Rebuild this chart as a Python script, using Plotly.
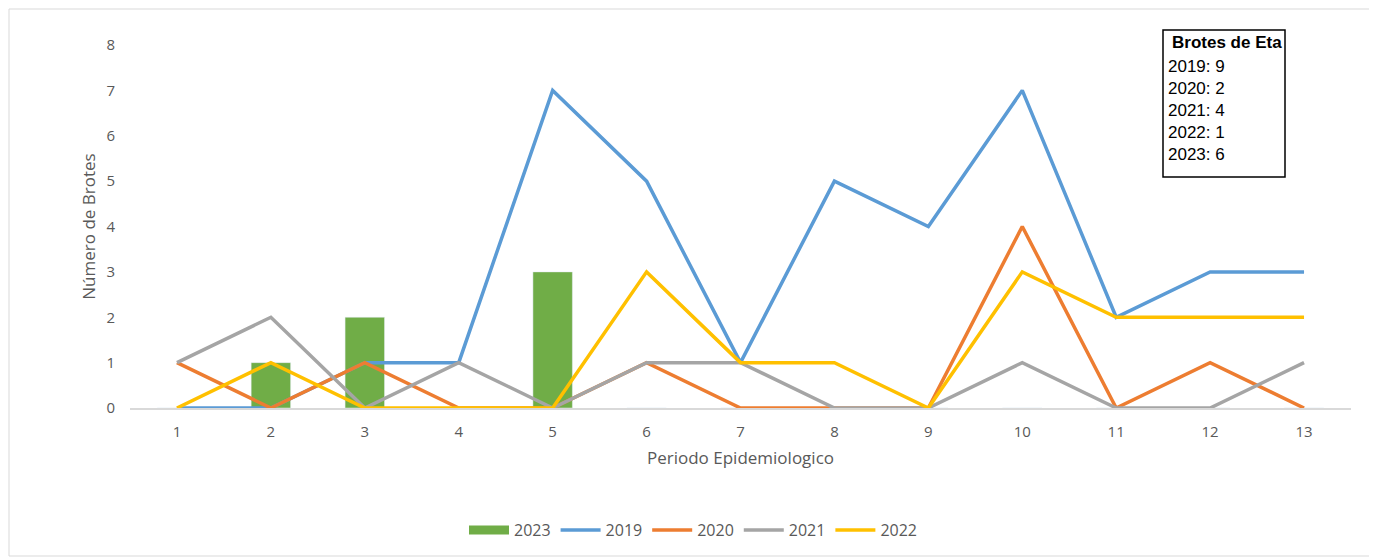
import plotly.graph_objects as go

periods = [str(i) for i in range(1, 14)]
v2023 = [0, 1, 2, 0, 3, 0, 0, 0, 0, 0, 0, 0, 0]
v2019 = [0, 0, 1, 1, 7, 5, 1, 5, 4, 7, 2, 3, 3]
v2020 = [1, 0, 1, 0, 0, 1, 0, 0, 0, 4, 0, 1, 0]
v2021 = [1, 2, 0, 1, 0, 1, 1, 0, 0, 1, 0, 0, 1]
v2022 = [0, 1, 0, 0, 0, 3, 1, 1, 0, 3, 2, 2, 2]
box_title = "Brotes de Eta"
box_lines = ["2019: 9", "2020: 2", "2021: 4", "2022: 1", "2023: 6"]

W, H = 1377, 559
OFF = 8  # page body margin
PL, PT, PR, PB = 130, 45, 1351, 408  # plot area in page pixels
L, T = PL - OFF, PT - OFF
pw, ph = PR - PL, PB - PT
R, B = W - L - pw, H - T - ph

def px(x):
    return (x - PL) / pw

def py(y):
    return (PB - y) / ph

grey = "#595959"
font_main = "Open Sans, Noto Sans, sans-serif"

fig = go.Figure()
fig.add_trace(go.Bar(x=periods, y=v2023, name="2023", marker_color="#70AD47", width=0.42,
                     showlegend=False, legendgroup="2023"))
fig.add_trace(go.Scatter(x=[None], y=[None], name="2023", mode="lines", legendgroup="2023",
                         line=dict(color="#70AD47", width=9)))
for name, vals, col in [("2019", v2019, "#5B9BD5"), ("2020", v2020, "#ED7D31"),
                        ("2021", v2021, "#A5A5A5"), ("2022", v2022, "#FFC000")]:
    fig.add_trace(go.Scatter(x=periods, y=vals, name=name, mode="lines",
                             line=dict(color=col, width=3.5)))

fig.update_layout(
    width=W, height=H,
    margin=dict(l=L, r=R, t=T, b=B),
    paper_bgcolor="white", plot_bgcolor="white",
    font=dict(family=font_main, color=grey, size=15),
    showlegend=True,
    legend=dict(orientation="h", x=px(693), xanchor="center", y=py(530), yanchor="middle",
                font=dict(size=16, color=grey), traceorder="normal", itemwidth=40,
                tracegroupgap=0),
    xaxis=dict(type="category", range=[-0.5, 12.5], showgrid=False, showline=True,
               linecolor="#D9D9D9", linewidth=1.5, ticks="", zeroline=False,
               tickfont=dict(size=15, color=grey), ticklabelstandoff=9,
               title=dict(text="Periodo Epidemiologico", font=dict(size=17, color=grey), standoff=12)),
    yaxis=dict(range=[0, 8], dtick=1, showgrid=False, zeroline=False, showline=False,
               ticks="", tickfont=dict(size=15, color=grey), ticklabelstandoff=14,
               title=dict(text="Número de Brotes", font=dict(size=17, color=grey), standoff=6)),
)

# outer chart border
fig.add_shape(type="rect", xref="paper", yref="paper",
              x0=px(9), x1=px(1373), y0=py(556), y1=py(9),
              line=dict(color="#D9D9D9", width=1), layer="below")
# info box
fig.add_shape(type="rect", xref="paper", yref="paper",
              x0=px(1163), x1=px(1285), y0=py(177), y1=py(30),
              line=dict(color="black", width=1.5), fillcolor="white")
box_font = dict(family="Liberation Sans, Arial, sans-serif", size=17, color="black")
fig.add_annotation(xref="paper", yref="paper", x=px(1227), y=py(43), xanchor="center", yanchor="middle",
                   showarrow=False, text="<b>" + box_title + "</b>", font=box_font)
for i, line in enumerate(box_lines):
    fig.add_annotation(xref="paper", yref="paper", x=px(1166), y=py(66 + 22.2 * i),
                       xanchor="left", yanchor="middle", showarrow=False, text=line, font=box_font)

fig.write_html("out.html")
